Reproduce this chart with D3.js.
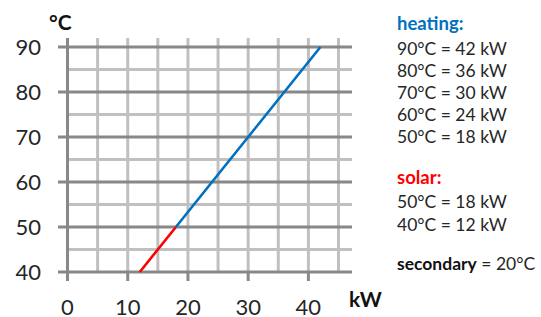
<!DOCTYPE html>
<html>
<head>
<meta charset="utf-8">
<script src="https://cdn.jsdelivr.net/npm/d3@7"></script>
<style>
  body { margin: 0; background: #fff; }
  text { font-family: Lato, "Open Sans", sans-serif; }
</style>
</head>
<body>
<div class="chart"></div>
<script>
var svgWidth = 541;
var svgHeight = 317;

// chart data
var heatingKw = [18, 24, 30, 36, 42];
var heatingTemp = [50, 60, 70, 80, 90];
var solarKw = [12, 18];
var solarTemp = [40, 50];
var xTicks = [0, 10, 20, 30, 40];
var yTicks = [40, 50, 60, 70, 80, 90];
var gridStep = 5;

var legendHeating = ["90°C = 42 kW", "80°C = 36 kW", "70°C = 30 kW", "60°C = 24 kW", "50°C = 18 kW"];
var legendSolar = ["50°C = 18 kW", "40°C = 12 kW"];

var svg = d3.select(".chart")
  .append("svg")
  .attr("width", svgWidth)
  .attr("height", svgHeight);

var x = d3.scaleLinear().domain([0, 45]).range([67.5, 338.5]);
var y = d3.scaleLinear().domain([40, 90]).range([272, 47]);

var major = "#888888";
var minor = "#c0c0c0";
var txt = "#262626";

// vertical grid lines every 5 kW
var xs = d3.range(0, 45 + 0.1, gridStep);
svg.append("g").selectAll("line")
  .data(xs)
  .enter()
  .append("line")
  .attr("x1", d => x(d))
  .attr("x2", d => x(d))
  .attr("y1", y(90) - 9)
  .attr("y2", y(40))
  .attr("stroke", d => d === 0 ? major : minor)
  .attr("stroke-width", 3);

// horizontal grid lines every 5 °C
var ys = d3.range(40, 90 + 0.1, gridStep);
svg.append("g").selectAll("line")
  .data(ys)
  .enter()
  .append("line")
  .attr("x1", d => d % 10 === 0 ? x(0) - 9.5 : x(0))
  .attr("x2", 352)
  .attr("y1", d => y(d))
  .attr("y2", d => y(d))
  .attr("stroke", d => d % 10 === 0 ? major : minor)
  .attr("stroke-width", 3);

// x tick marks below the axis
svg.append("g").selectAll("line")
  .data(xTicks)
  .enter()
  .append("line")
  .attr("x1", d => x(d))
  .attr("x2", d => x(d))
  .attr("y1", y(40))
  .attr("y2", y(40) + 9)
  .attr("stroke", major)
  .attr("stroke-width", 3);

// y axis line redrawn on top
svg.append("line")
  .attr("x1", x(0)).attr("x2", x(0))
  .attr("y1", y(90) - 9).attr("y2", y(40) + 9)
  .attr("stroke", major)
  .attr("stroke-width", 3);

// tick labels
svg.append("g").selectAll("text")
  .data(yTicks)
  .enter()
  .append("text")
  .attr("x", 41)
  .attr("y", d => y(d) + 8)
  .attr("text-anchor", "end")
  .attr("font-size", "22px")
  .attr("fill", txt)
  .text(d => d);

svg.append("g").selectAll("text")
  .data(xTicks)
  .enter()
  .append("text")
  .attr("x", d => x(d))
  .attr("y", 315)
  .attr("text-anchor", "middle")
  .attr("font-size", "22px")
  .attr("fill", txt)
  .text(d => d);

// axis units
svg.append("text")
  .attr("x", 49).attr("y", 30)
  .attr("font-size", "21px").attr("font-weight", "bold")
  .attr("fill", "#111")
  .text("°C");

svg.append("text")
  .attr("x", 349).attr("y", 307)
  .attr("font-size", "21px").attr("font-weight", "bold")
  .attr("fill", "#111")
  .text("kW");

// lines
var line = d3.line().x(d => x(d[0])).y(d => y(d[1]));

svg.append("path")
  .datum(d3.zip(solarKw, solarTemp))
  .attr("d", line)
  .attr("fill", "none")
  .attr("stroke", "#ff0000")
  .attr("stroke-width", 2.6);

svg.append("path")
  .datum(d3.zip(heatingKw, heatingTemp))
  .attr("d", line)
  .attr("fill", "none")
  .attr("stroke", "#0070c0")
  .attr("stroke-width", 2.6);

// legend text
var lx = 397;
var legend = svg.append("g").attr("font-size", "17.5px");

legend.append("text")
  .attr("x", lx).attr("y", 30)
  .attr("font-size", "18.5px")
  .attr("font-weight", "bold").attr("fill", "#0070c0")
  .text("heating:");

legend.selectAll(".heat")
  .data(legendHeating)
  .enter()
  .append("text")
  .attr("class", "heat")
  .attr("x", lx)
  .attr("y", (d, i) => 55 + i * 22)
  .attr("fill", txt)
  .text(d => d);

legend.append("text")
  .attr("x", lx).attr("y", 184)
  .attr("font-size", "18.5px")
  .attr("font-weight", "bold").attr("fill", "#ff0000")
  .text("solar:");

legend.selectAll(".sol")
  .data(legendSolar)
  .enter()
  .append("text")
  .attr("class", "sol")
  .attr("x", lx)
  .attr("y", (d, i) => 208 + i * 23.3)
  .attr("fill", txt)
  .text(d => d);

var sec = legend.append("text")
  .attr("x", lx).attr("y", 270)
  .attr("fill", txt);
sec.append("tspan").attr("font-weight", "bold").attr("fill", "#111").text("secondary");
sec.append("tspan").text(" = 20°C");
</script>
</body>
</html>
